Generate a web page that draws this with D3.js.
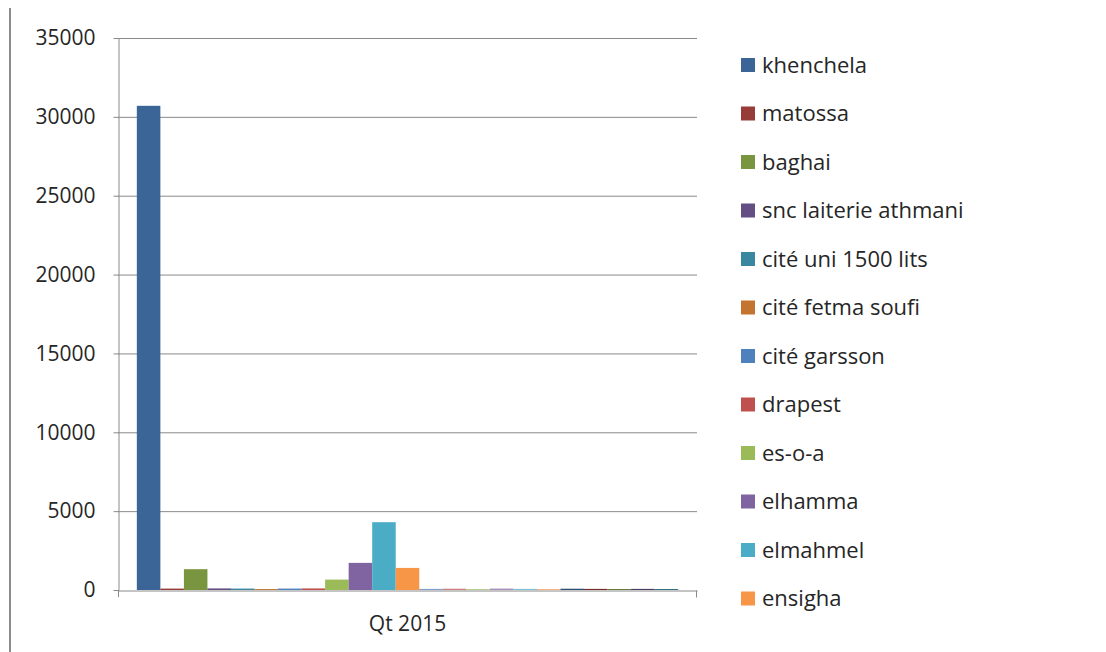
<!DOCTYPE html>
<html>
<head>
<meta charset="utf-8">
<script src="https://cdn.jsdelivr.net/npm/d3@7"></script>
<style>
  body { margin: 0; background: #fff; }
  svg { display: block; }
</style>
</head>
<body>
<svg id="chart"></svg>
<script>
// data
const categories = ["Qt 2015"];
const seriesNames = [
    "khenchela", "matossa", "baghai", "snc laiterie athmani", "cité uni 1500 lits",
    "cité fetma soufi", "cité garsson", "drapest", "es-o-a", "elhamma", "elmahmel", "ensigha",
    "s13", "s14", "s15", "s16", "s17", "s18", "s19", "s20", "s21", "s22", "s23"
];
const seriesValues = [
    30700, 90, 1320, 100, 90, 60, 90, 100, 660, 1720, 4300, 1400,
    70, 80, 60, 90, 70, 60, 80, 70, 60, 70, 60
];
const legendCount = 12; // only the first 12 fit in the legend
const seriesColors = [
    "#3b6497", "#983c39", "#7a9540", "#644f84", "#3a889f", "#c4742f",
    "#4f81bd", "#c0504d", "#9bbb59", "#8064a2", "#4bacc6", "#f79646",
    "#7f9fcf", "#cf7f7d", "#b5cc8a", "#a491bc", "#7cc1d4", "#f9b07a",
    "#2c4d75", "#772c2a", "#5f7530", "#4d3b62", "#276a7c"
];
const yTicks = [0, 5000, 10000, 15000, 20000, 25000, 30000, 35000];

const width = 1106, height = 652;
const plot = {left: 118, right: 697, top: 38, bottom: 590};
const font = "'Open Sans', 'Noto Sans', sans-serif";
const fontSize = 21;

const svg = d3.select("#chart")
    .attr("width", width)
    .attr("height", height);

// frame line at the left of the screenshot
svg.append("line")
    .attr("x1", 10).attr("x2", 10)
    .attr("y1", 8).attr("y2", 652)
    .attr("stroke", "#8c8c8c")
    .attr("stroke-width", 2);

const y = d3.scaleLinear()
    .domain([0, 35000])
    .range([plot.bottom, plot.top]);

const x0 = d3.scaleBand()
    .domain(categories)
    .range([plot.left, plot.right]);

const x1 = d3.scaleBand()
    .domain(seriesNames)
    .range([0, x0.bandwidth()])
    .paddingInner(0)
    .paddingOuter(0.8);

// gridlines
svg.append("g")
    .selectAll("line")
    .data(yTicks.filter(d => d > 0))
    .join("line")
    .attr("x1", plot.left)
    .attr("x2", plot.right)
    .attr("y1", d => y(d) + 0.5)
    .attr("y2", d => y(d) + 0.5)
    .attr("stroke", "#8a8a8a")
    .attr("stroke-width", 1);

// bars
const rows = seriesNames.map((name, i) => ({name, value: seriesValues[i], color: seriesColors[i]}));

svg.append("g")
    .selectAll("rect")
    .data(rows)
    .join("rect")
    .attr("x", d => x0(categories[0]) + x1(d.name))
    .attr("y", d => y(d.value))
    .attr("width", x1.bandwidth())
    .attr("height", d => y(0) - y(d.value))
    .attr("fill", d => d.color);

// y axis
const yAxis = svg.append("g")
    .attr("transform", `translate(${plot.left + 0.5},0)`)
    .call(d3.axisLeft(y).tickValues(yTicks).tickFormat(d3.format("d"))
        .tickSize(5).tickPadding(18).tickSizeOuter(0));
yAxis.select(".domain").attr("stroke", "#8a8a8a");
yAxis.selectAll(".tick line").attr("stroke", "#8a8a8a");
yAxis.selectAll("text")
    .attr("font-family", font)
    .attr("font-size", fontSize)
    .attr("fill", "#262626");
// axis runs a little below zero
yAxis.append("line")
    .attr("y1", plot.bottom).attr("y2", plot.bottom + 7)
    .attr("stroke", "#8a8a8a");

// x axis
const xAxis = svg.append("g")
    .attr("transform", `translate(0,${plot.bottom + 0.5})`)
    .call(d3.axisBottom(x0).tickSize(0).tickPadding(26).tickSizeOuter(0));
xAxis.select(".domain").attr("stroke", "#8a8a8a");
xAxis.selectAll("text")
    .attr("font-family", font)
    .attr("font-size", fontSize)
    .attr("fill", "#262626");
xAxis.append("line")
    .attr("x1", plot.right - 0.5).attr("x2", plot.right - 0.5)
    .attr("y1", 0).attr("y2", 7)
    .attr("stroke", "#8a8a8a");

// legend
const legend = svg.append("g")
    .attr("transform", "translate(741,65)")
    .selectAll("g")
    .data(rows.slice(0, legendCount))
    .join("g")
    .attr("transform", (d, i) => `translate(0,${i * 48.5})`);

legend.append("rect")
    .attr("x", 0).attr("y", -7)
    .attr("width", 14).attr("height", 14)
    .attr("fill", d => d.color);

legend.append("text")
    .attr("x", 21)
    .attr("dy", "0.35em")
    .attr("font-family", font)
    .attr("font-size", 22)
    .attr("fill", "#262626")
    .text(d => d.name);
</script>
</body>
</html>
